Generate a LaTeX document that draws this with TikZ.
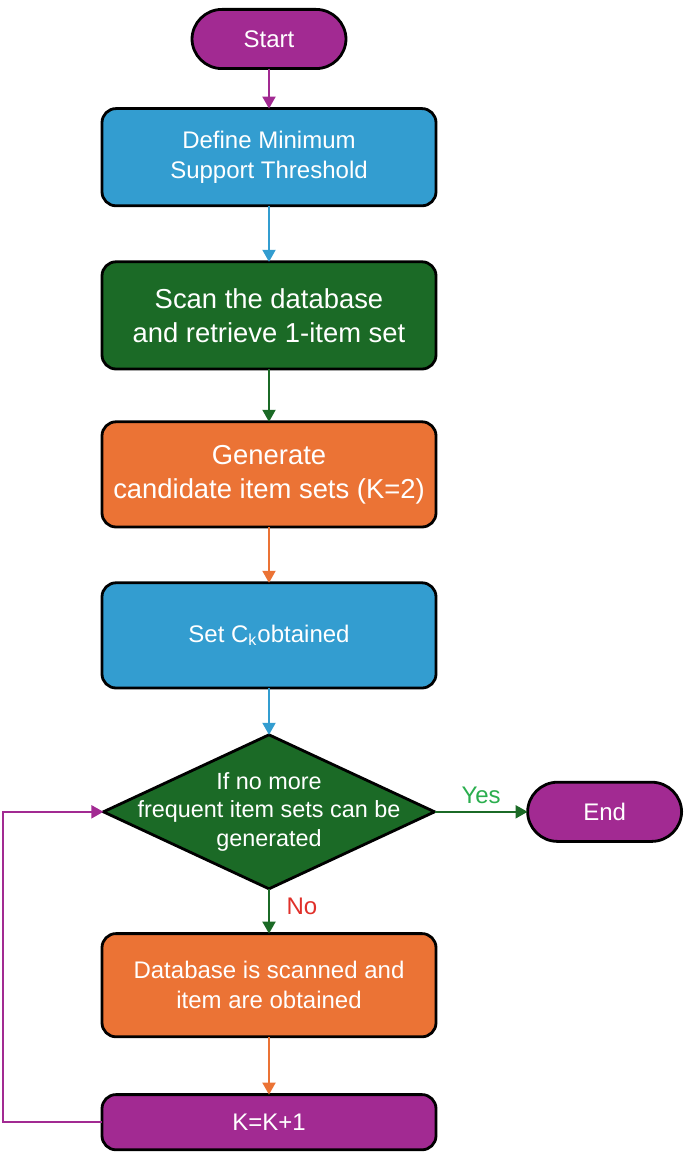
\documentclass[tikz,border=0pt]{standalone}
\usepackage{fontspec}
\setmainfont{Liberation Sans}
\usetikzlibrary{positioning,arrows.meta,shapes.geometric}
\definecolor{fcpurple}{HTML}{A22A92}
\definecolor{fcblue}{HTML}{339DD0}
\definecolor{fcgreen}{HTML}{1B6A26}
\definecolor{fcorange}{HTML}{EB7335}
\definecolor{fcyes}{HTML}{2BAE4E}
\definecolor{fcred}{HTML}{E0302A}

\begin{document}
\begin{tikzpicture}[
  font=\fontsize{12}{15}\selectfont,
  box/.style={draw, line width=1.4pt, rounded corners=7pt, align=center, text=white, minimum width=167pt, inner sep=2pt, outer sep=0pt},
  term/.style={draw, line width=1.4pt, rounded corners=15pt, text=white, fill=fcpurple, minimum width=77pt, minimum height=29.6pt, outer sep=0pt},
  decision/.style={draw, diamond, line width=1.4pt, fill=fcgreen, minimum width=165.6pt, minimum height=77pt, inner sep=0pt, outer sep=0pt},
  flow/.style={-{Triangle[length=6pt,width=6.5pt]}, line width=1pt},
  big/.style={font=\fontsize{13.7}{17}\selectfont}
]
  \useasboundingbox (0,0) rectangle (342.5pt,-577.5pt);
  \node[term] (start) at (134.5pt,-19.5pt) {Start};
  \node[box, fill=fcblue, minimum height=48.6pt, below=20pt of start] (minsup) {Define Minimum\\Support Threshold};
  \node[box, big, fill=fcgreen, minimum height=53.6pt, below=28pt of minsup] (scan) {Scan the database\\and retrieve 1-item set};
  \node[box, big, fill=fcorange, minimum height=52.6pt, below=26.4pt of scan] (cand) {Generate\\candidate item sets (K=2)};
  \node[box, fill=fcblue, minimum height=52.6pt, below=27.9pt of cand] (setck) {Set C\textsubscript{k}obtained};
  \node[decision, below=23.4pt of setck] (dec) {};
  \node[text=white, align=center, font=\fontsize{11.7}{14.2}\selectfont] (dectext) at (dec) {If no more\\frequent item sets can be\\generated};
  \node[term, right=46.5pt of dec] (end) {End};
  \node[box, fill=fcorange, minimum height=51.6pt, below=22.4pt of dec] (dbscan) {Database is scanned and\\item are obtained};
  \node[box, fill=fcpurple, minimum height=27.6pt, below=28.9pt of dbscan] (inc) {K=K+1};
  \draw[flow, fcpurple] (start) -- (minsup);
  \draw[flow, fcblue] (minsup) -- (scan);
  \draw[flow, fcgreen] (scan) -- (cand);
  \draw[flow, fcorange] (cand) -- (setck);
  \draw[flow, fcblue] (setck) -- (dec.north);
  \draw[flow, fcgreen] (dec.east) -- node[above, text=fcyes] (yes) {Yes} (end.west);
  \draw[flow, fcgreen] (dec.south) -- node[pos=0.4, right=5pt, text=fcred] (no) {No} (dbscan.north);
  \draw[flow, fcorange] (dbscan) -- (inc);
  \draw[flow, fcpurple] (inc.west) -- ++(-49.3pt,0) |- (dec.west);
\end{tikzpicture}
\end{document}
